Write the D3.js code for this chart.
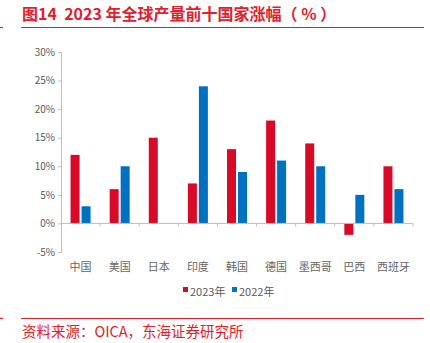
<!DOCTYPE html>
<html>
<head>
<meta charset="utf-8">
<script src="https://cdn.jsdelivr.net/npm/d3@7"></script>
<style>
  body { margin: 0; background: #fff; }
  text { font-family: "Noto Sans CJK SC", "Liberation Sans", sans-serif; white-space: pre; }
</style>
</head>
<body>
<div id="chart"></div>
<script>
const countries = ["中国", "美国", "日本", "印度", "韩国", "德国", "墨西哥", "巴西", "西班牙"];
const v2023 = [12, 6, 15, 7, 13, 18, 14, -2, 10];
const v2022 = [3, 10, 0, 24, 9, 11, 10, 5, 6];
const yTicks = [-5, 0, 5, 10, 15, 20, 25, 30];
const seriesNames = ["2023年", "2022年"];

const width = 430, height = 343;
const red = "#d90a27", blue = "#0070c0", titleRed = "#e0202c";

const svg = d3.select("#chart").append("svg")
    .attr("width", width)
    .attr("height", height);

// title
svg.append("text")
    .attr("x", 22).attr("y", 20)
    .attr("fill", titleRed)
    .attr("font-size", 16)
    .attr("font-weight", "bold")
    .text("图14  2023 年全球产量前十国家涨幅（ % ）");

svg.append("line").attr("x1", 21).attr("x2", 424).attr("y1", 27.5).attr("y2", 27.5)
    .attr("stroke", titleRed).attr("stroke-width", 1.2);
svg.append("line").attr("x1", 0).attr("x2", 3).attr("y1", 27.5).attr("y2", 27.5)
    .attr("stroke", titleRed).attr("stroke-width", 1.2);

const x = d3.scaleBand().domain(countries).range([61, 413]);
const y = d3.scaleLinear().domain([-5, 30]).range([252, 52]);
const barW = 9, gap = 2;

// y axis
const yAxis = svg.append("g")
    .attr("transform", "translate(61,0)")
    .call(d3.axisLeft(y).tickValues(yTicks).tickSize(3).tickFormat(d => d + "%"));
yAxis.select(".domain").attr("stroke", "#bfbfbf");
yAxis.selectAll(".tick line").attr("stroke", "#bfbfbf");
yAxis.selectAll(".tick text").attr("fill", "#595959").attr("font-size", 10)
    .attr("font-family", "Liberation Sans, sans-serif").attr("x", -6);

// bars
const groups = svg.append("g").selectAll("g")
    .data(countries)
    .join("g")
    .attr("transform", d => `translate(${x(d) + x.bandwidth() / 2},0)`);

groups.append("rect")
    .attr("x", -barW - gap / 2)
    .attr("width", barW)
    .attr("y", (d, i) => y(Math.max(0, v2023[i])))
    .attr("height", (d, i) => Math.abs(y(v2023[i]) - y(0)))
    .attr("fill", red);

groups.append("rect")
    .attr("x", gap / 2)
    .attr("width", barW)
    .attr("y", (d, i) => y(Math.max(0, v2022[i])))
    .attr("height", (d, i) => Math.abs(y(v2022[i]) - y(0)))
    .attr("fill", blue);

// x axis at zero
const xAxis = svg.append("g")
    .attr("transform", `translate(0,${y(0)})`);
xAxis.append("line").attr("x1", 61).attr("x2", 413).attr("stroke", "#bfbfbf");
xAxis.selectAll("line.tk")
    .data(countries.slice(1).concat([null]))
    .join("line")
    .attr("class", "tk")
    .attr("x1", (d, i) => i < countries.length - 1 ? x(d) : 413)
    .attr("x2", (d, i) => i < countries.length - 1 ? x(d) : 413)
    .attr("y1", 0).attr("y2", 3)
    .attr("stroke", "#bfbfbf");

// category labels
svg.append("g").selectAll("text")
    .data(countries)
    .join("text")
    .attr("x", d => x(d) + x.bandwidth() / 2)
    .attr("y", 271)
    .attr("text-anchor", "middle")
    .attr("fill", "#666666")
    .attr("font-size", 11)
    .text(d => d);

// legend
const legend = svg.append("g").attr("transform", "translate(183,291)");
const lx = [0, 49];
seriesNames.forEach((name, i) => {
  legend.append("rect").attr("x", lx[i]).attr("y", -4).attr("width", 5).attr("height", 5)
      .attr("fill", i === 0 ? red : blue);
  legend.append("text").attr("x", lx[i] + 7).attr("y", 1).attr("dy", "0.32em")
      .attr("fill", "#595959").attr("font-size", 11).text(name);
});

// footer
svg.append("line").attr("x1", 21).attr("x2", 424).attr("y1", 318.5).attr("y2", 318.5)
    .attr("stroke", titleRed).attr("stroke-width", 1.2);
svg.append("line").attr("x1", 0).attr("x2", 3).attr("y1", 318.5).attr("y2", 318.5)
    .attr("stroke", titleRed).attr("stroke-width", 1.2);
svg.append("text")
    .attr("x", 22).attr("y", 337)
    .attr("fill", titleRed)
    .attr("font-size", 14.5)
    .text("资料来源：OICA，东海证券研究所");
</script>
</body>
</html>
